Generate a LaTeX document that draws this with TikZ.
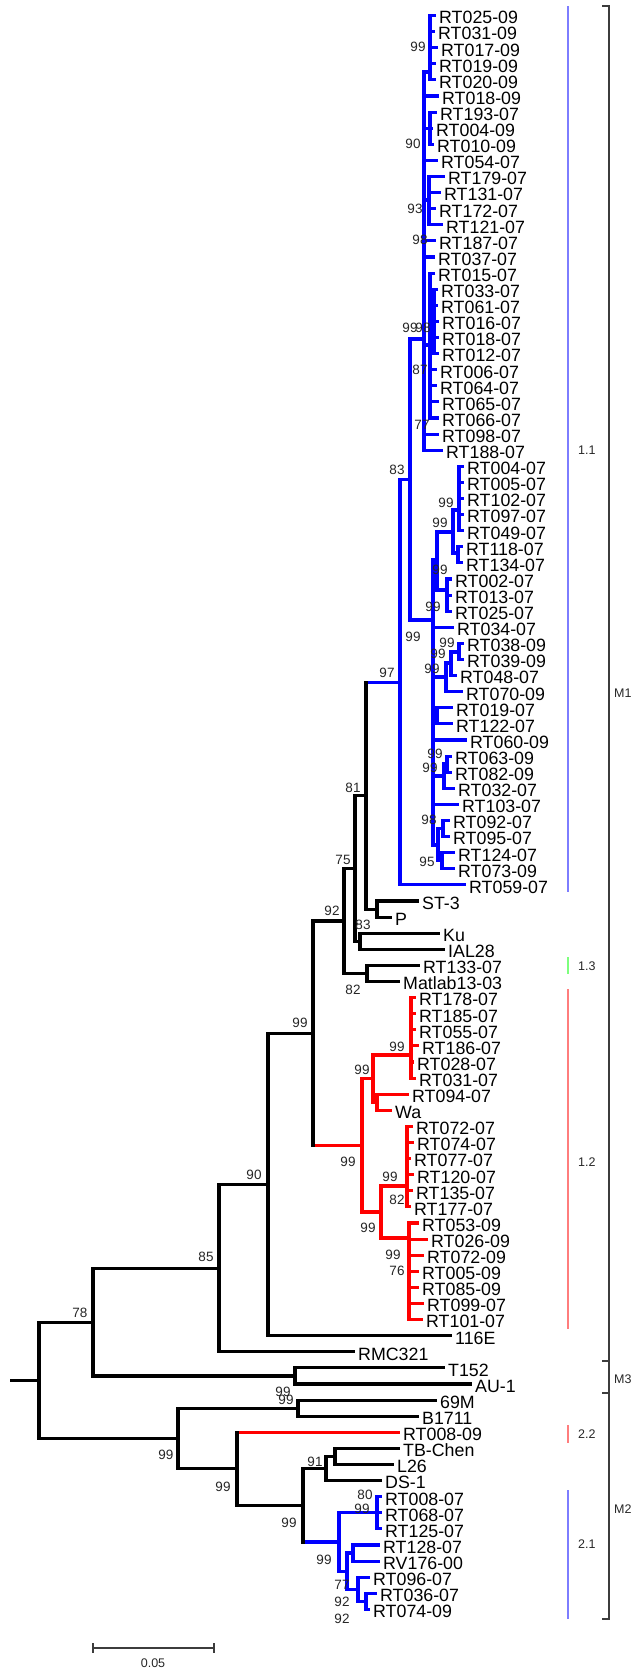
\documentclass[tikz,border=0pt]{standalone}
\usepackage{fontspec}
\setmainfont{Liberation Sans}
\definecolor{tb}{RGB}{0,0,255}
\definecolor{tr}{RGB}{255,0,0}
\definecolor{gb}{RGB}{125,125,255}
\definecolor{gg}{RGB}{125,255,125}
\definecolor{gr}{RGB}{255,125,125}
\definecolor{brk}{RGB}{60,60,60}
\pgfmathdeclarefunction{leafy}{1}{\pgfmathparse{15.5+(#1-1)*16.1}}
\newcounter{bsc}
\tikzset{
 br/.style={line width=3.1pt, line cap=rect},
 lbl/.style={anchor=base west, inner sep=0pt, font=\fontsize{17.8}{18}\selectfont},
 bsl/.style={inner sep=0pt, font=\fontsize{13.5}{14}\selectfont, text=black!85},
 grp/.style={line width=1.4pt},
 glbl/.style={anchor=west, inner sep=0pt, font=\fontsize{12.5}{13}\selectfont, text=black!85},
}
\newcommand\Lf[5][black]{\draw[br,#1] (#2,{leafy(#3)}) -- (#4,{leafy(#3)}); \node[lbl] (L#3) at ({#4+5},{leafy(#3)+8.3}) {#5};}
\newcommand\V[4][black]{\draw[br,#1] (#2,{#3}) -- (#2,{#4});}
\newcommand\Hz[4][black]{\draw[br,#1] (#2,{#4}) -- (#3,{#4});}
\newcommand\B[3]{\stepcounter{bsc}\node[bsl] (bs\arabic{bsc}) at (#1,#2) {#3};}
\begin{document}
\begin{tikzpicture}[x=1pt,y=-1pt]
\useasboundingbox (0,0) rectangle (634,1671);
% ===== clade 1.1 (blue) =====
\V[tb]{424}{72}{leafy(28)}
\Hz[tb]{410}{424}{339}
\V[tb]{430}{leafy(1)}{leafy(5)} \Hz[tb]{424}{430}{72}
\Lf[tb]{430}{1}{434}{RT025-09}
\Lf[tb]{430}{2}{433}{RT031-09}
\Lf[tb]{430}{3}{436}{RT017-09}
\Lf[tb]{430}{4}{434}{RT019-09}
\Lf[tb]{430}{5}{434}{RT020-09}
\Lf[tb]{424}{6}{437}{RT018-09}
\V[tb]{430}{leafy(7)}{leafy(9)} \Hz[tb]{424}{430}{128.2}
\Lf[tb]{430}{7}{435}{RT193-07}
\Lf[tb]{430}{8}{431}{RT004-09}
\Lf[tb]{430}{9}{432}{RT010-09}
\Lf[tb]{424}{10}{436}{RT054-07}
\V[tb]{429}{leafy(11)}{leafy(14)} \Hz[tb]{424}{429}{200}
\Lf[tb]{429}{11}{443}{RT179-07}
\Lf[tb]{429}{12}{439}{RT131-07}
\Lf[tb]{429}{13}{434}{RT172-07}
\Lf[tb]{429}{14}{441}{RT121-07}
\Lf[tb]{424}{15}{434}{RT187-07}
\Lf[tb]{424}{16}{433}{RT037-07}
\V[tb]{430}{leafy(17)}{leafy(26)} \Hz[tb]{424}{430}{345}
\V[tb]{434}{leafy(18)}{leafy(22)}
\Lf[tb]{430}{17}{433}{RT015-07}
\Lf[tb]{430}{18}{436}{RT033-07}
\Lf[tb]{430}{19}{436}{RT061-07}
\Lf[tb]{430}{20}{437}{RT016-07}
\Lf[tb]{430}{21}{437}{RT018-07}
\Lf[tb]{430}{22}{437}{RT012-07}
\Lf[tb]{430}{23}{435}{RT006-07}
\Lf[tb]{430}{24}{435}{RT064-07}
\Lf[tb]{430}{25}{437}{RT065-07}
\Lf[tb]{430}{26}{437}{RT066-07}
\Lf[tb]{424}{27}{437}{RT098-07}
\Lf[tb]{424}{28}{441}{RT188-07}
% lower part of 1.1
\V[tb]{410}{339}{620}
\Hz[tb]{410}{433}{620}
\V[tb]{433}{560}{845}
\Hz[tb]{433}{437}{560} \V[tb]{437}{532}{590}
\Hz[tb]{437}{453}{532} \V[tb]{453}{510}{553}
\Hz[tb]{453}{459}{510} \V[tb]{459}{leafy(29)}{leafy(33)}
\Lf[tb]{459}{29}{462}{RT004-07}
\Lf[tb]{459}{30}{462}{RT005-07}
\Lf[tb]{459}{31}{462}{RT102-07}
\Lf[tb]{459}{32}{462}{RT097-07}
\Lf[tb]{459}{33}{462}{RT049-07}
\Hz[tb]{453}{458}{553} \V[tb]{458}{leafy(34)}{leafy(35)}
\Lf[tb]{458}{34}{461}{RT118-07}
\Lf[tb]{458}{35}{461}{RT134-07}
\Hz[tb]{437}{447}{590} \V[tb]{447}{leafy(36)}{leafy(38)}
\Lf[tb]{447}{36}{450}{RT002-07}
\Lf[tb]{447}{37}{450}{RT013-07}
\Lf[tb]{447}{38}{450}{RT025-07}
\Lf[tb]{433}{39}{452}{RT034-07}
\Hz[tb]{433}{446}{677} \V[tb]{446}{663}{leafy(43)}
\Hz[tb]{446}{451}{663} \V[tb]{451}{652}{leafy(42)}
\Hz[tb]{451}{459}{652} \V[tb]{459}{leafy(40)}{leafy(41)}
\Lf[tb]{459}{40}{462}{RT038-09}
\Lf[tb]{459}{41}{462}{RT039-09}
\Lf[tb]{451}{42}{455}{RT048-07}
\Lf[tb]{446}{43}{461}{RT070-09}
\Hz[tb]{433}{437}{716} \V[tb]{437}{leafy(44)}{leafy(45)}
\Lf[tb]{437}{44}{451}{RT019-07}
\Lf[tb]{437}{45}{451}{RT122-07}
\Lf[tb]{433}{46}{465}{RT060-09}
\Hz[tb]{433}{444}{776} \V[tb]{444}{764}{leafy(49)}
\Hz[tb]{444}{447}{764} \V[tb]{447}{leafy(47)}{leafy(48)}
\Lf[tb]{447}{47}{450}{RT063-09}
\Lf[tb]{447}{48}{450}{RT082-09}
\Lf[tb]{444}{49}{453}{RT032-07}
\Lf[tb]{433}{50}{457}{RT103-07}
\Hz[tb]{433}{438}{845} \V[tb]{438}{828.5}{860.8}
\Hz[tb]{438}{443}{828.5} \V[tb]{443}{leafy(51)}{leafy(52)}
\Lf[tb]{443}{51}{448}{RT092-07}
\Lf[tb]{443}{52}{448}{RT095-07}
\Hz[tb]{438}{442}{860.8} \V[tb]{442}{leafy(53)}{leafy(54)}
\Lf[tb]{442}{53}{453}{RT124-07}
\Lf[tb]{442}{54}{453}{RT073-09}
\Hz[tb]{400}{410}{479.5}
\V[tb]{400}{479.5}{leafy(55)}
\Lf[tb]{400}{55}{464}{RT059-07}
\Hz[tb]{366}{400}{682.2}
% ===== clade 1.2 (red) =====
\Hz[tr]{313}{362}{1145.3}
\V[tr]{362}{1078.6}{1212}
\Hz[tr]{362}{373}{1078.6}
\V[tr]{373}{1055}{1102.3}
\Hz[tr]{373}{411}{1055}
\V[tr]{411}{leafy(62)}{leafy(67)}
\Lf[tr]{411}{62}{414}{RT178-07}
\Lf[tr]{411}{63}{414}{RT185-07}
\Lf[tr]{411}{64}{414}{RT055-07}
\Lf[tr]{411}{65}{417}{RT186-07}
\Lf[tr]{411}{66}{412}{RT028-07}
\Lf[tr]{411}{67}{414}{RT031-07}
\Hz[tr]{373}{377}{1102.3}
\V[tr]{377}{leafy(68)}{leafy(69)}
\Lf[tr]{377}{68}{407}{RT094-07}
\Lf[tr]{377}{69}{390}{Wa}
\Hz[tr]{362}{381}{1212}
\V[tr]{381}{1186}{1238}
\Hz[tr]{381}{407}{1186}
\V[tr]{407}{leafy(70)}{leafy(75)}
\Lf[tr]{407}{70}{411}{RT072-07}
\Lf[tr]{407}{71}{412}{RT074-07}
\Lf[tr]{407}{72}{409}{RT077-07}
\Lf[tr]{407}{73}{412}{RT120-07}
\Lf[tr]{407}{74}{411}{RT135-07}
\Lf[tr]{407}{75}{409}{RT177-07}
\Hz[tr]{381}{409}{1238}
\V[tr]{409}{leafy(76)}{leafy(82)}
\Lf[tr]{409}{76}{417}{RT053-09}
\Lf[tr]{409}{77}{426}{RT026-09}
\Lf[tr]{409}{78}{422}{RT072-09}
\Lf[tr]{409}{79}{417}{RT005-09}
\Lf[tr]{409}{80}{417}{RT085-09}
\Lf[tr]{409}{81}{422}{RT099-07}
\Lf[tr]{409}{82}{421}{RT101-07}
% ===== 2.2 and 2.1 =====
\Lf[tr]{237}{89}{398}{RT008-09}
\Hz[tb]{303}{339}{1542} \V[tb]{339}{1512.8}{1571.2}
\Hz[tb]{339}{377}{1512.8} \V[tb]{377}{leafy(93)}{leafy(95)}
\Lf[tb]{377}{93}{380}{RT008-07}
\Lf[tb]{377}{94}{380}{RT068-07}
\Lf[tb]{377}{95}{380}{RT125-07}
\Hz[tb]{339}{347}{1571.2} \V[tb]{347}{1553}{1589.3}
\Hz[tb]{347}{353}{1553} \V[tb]{353}{leafy(96)}{leafy(97)}
\Lf[tb]{353}{96}{378}{RT128-07}
\Lf[tb]{353}{97}{378}{RV176-00}
\Hz[tb]{347}{358}{1589.3} \V[tb]{358}{leafy(98)}{1601.4}
\Lf[tb]{358}{98}{368}{RT096-07}
\Hz[tb]{358}{366}{1601.4} \V[tb]{366}{leafy(99)}{leafy(100)}
\Lf[tb]{366}{99}{375}{RT036-07}
\Lf[tb]{366}{100}{368}{RT074-09}
% ===== black backbone =====
\V{366}{682.2}{909.1} \Hz{355}{366}{795.7}
\V{377}{leafy(56)}{leafy(57)} \Hz{366}{377}{909.1}
\Lf{377}{56}{417}{ST-3}
\Lf{377}{57}{390}{P}
\V{355}{795.7}{941.3} \Hz{344}{355}{868.5}
\V{360}{leafy(58)}{leafy(59)} \Hz{355}{360}{941.3}
\Lf{360}{58}{438}{Ku}
\Lf{360}{59}{443}{IAL28}
\V{344}{868.5}{973.5} \Hz{313}{344}{921}
\V{367}{leafy(60)}{leafy(61)} \Hz{344}{367}{973.5}
\Lf{367}{60}{418}{RT133-07}
\Lf{367}{61}{398}{Matlab13-03}
\V{313}{921}{1145.3} \Hz{268}{313}{1033.2}
\V{268}{1033.2}{leafy(83)} \Hz{219}{268}{1184.5}
\Lf{268}{83}{450}{116E}
\V{219}{1184.5}{leafy(84)} \Hz{93}{219}{1268.2}
\Lf{219}{84}{353}{RMC321}
\V{93}{1268.2}{1376} \Hz{39}{93}{1322.1}
\V{295}{leafy(85)}{leafy(86)} \Hz{93}{295}{1376}
\Lf{295}{85}{443}{T152}
\Lf{295}{86}{470}{AU-1}
\V{39}{1322.1}{1438.5} \Hz{12}{39}{1380.3}
\Hz{39}{178}{1438.5} \V{178}{1408.2}{1468.8}
\Hz{178}{298}{1408.2} \V{298}{leafy(87)}{leafy(88)}
\Lf{298}{87}{435}{69M}
\Lf{298}{88}{417}{B1711}
\Hz{178}{237}{1468.8} \V{237}{leafy(89)}{1505.3}
\Hz{237}{303}{1505.3} \V{303}{1468.5}{1542}
\Hz{303}{326}{1468.5} \V{326}{1456.5}{leafy(92)}
\Hz{326}{335}{1456.5} \V{335}{leafy(90)}{leafy(91)}
\Lf{335}{90}{398}{TB-Chen}
\Lf{335}{91}{392}{L26}
\Lf{326}{92}{380}{DS-1}
% ===== bootstrap values =====
\B{418}{47}{99} \B{413}{144}{90} \B{415}{209}{93} \B{420}{240}{98}
\B{410}{328}{99} \B{423}{328}{98} \B{420}{370}{87} \B{422}{425}{77}
\B{397}{470}{83}
\B{446}{503}{99} \B{440}{523}{99} \B{440}{570}{99} \B{433}{607}{99}
\B{413}{637}{99} \B{447}{643}{99} \B{438}{654}{99} \B{432}{669}{99}
\B{387}{673}{97} \B{435}{754}{99} \B{430}{768}{99} \B{429}{820}{98}
\B{427}{862}{95}
\B{353}{788}{81} \B{343}{860}{75} \B{332}{911}{92} \B{363}{925}{83}
\B{353}{990}{82} \B{300}{1023}{99} \B{254}{1175}{90} \B{206}{1257}{85}
\B{80}{1313}{78}
\B{397}{1047}{99} \B{362}{1070}{99} \B{348}{1162}{99} \B{390}{1177}{99}
\B{397}{1200}{82} \B{368}{1228}{99} \B{393}{1255}{99} \B{397}{1271}{76}
\B{283}{1392}{99} \B{286}{1400}{99} \B{166}{1455}{99} \B{223}{1487}{99}
\B{289}{1523}{99} \B{315}{1462}{91} \B{365}{1495}{80} \B{362}{1509}{99}
\B{324}{1560}{99} \B{342}{1585}{77} \B{342}{1602}{92} \B{342}{1619}{92}
% ===== group bars and brackets =====
\draw[grp,gb] (568,6) coordinate (g11a) -- (568,892) coordinate (g11b);
\node[glbl] (t11) at (578,450) {1.1};
\draw[grp,gg] (568,957) coordinate (g13a) -- (568,974) coordinate (g13b);
\node[glbl] (t13) at (578,966) {1.3};
\draw[grp,gr] (568,989) coordinate (g12a) -- (568,1329) coordinate (g12b);
\node[glbl] (t12) at (578,1162) {1.2};
\draw[grp,gr] (568,1425) coordinate (g22a) -- (568,1443) coordinate (g22b);
\node[glbl] (t22) at (578,1434) {2.2};
\draw[grp,gb] (568,1490) coordinate (g21a) -- (568,1619) coordinate (g21b);
\node[glbl] (t21) at (578,1544) {2.1};
\draw[line width=1.3pt,brk] (602,6) -- (609,6) -- (609,1619) -- (602,1619);
\draw[line width=1.3pt,brk] (602,1361) -- (609,1361);
\draw[line width=1.3pt,brk] (602,1393) -- (609,1393);
\node[glbl] (tM1) at (614,693) {M1};
\node[glbl] (tM3) at (614,1379) {M3};
\node[glbl] (tM2) at (614,1509) {M2};
% ===== scale bar =====
\draw[line width=1.3pt,brk] (93,1643) -- (93,1653) (93,1648) -- (214,1648) (214,1643) -- (214,1653);
\node[bsl,font=\fontsize{12.5}{13}\selectfont] (scl) at (153,1663) {0.05};
\end{tikzpicture}
\end{document}
